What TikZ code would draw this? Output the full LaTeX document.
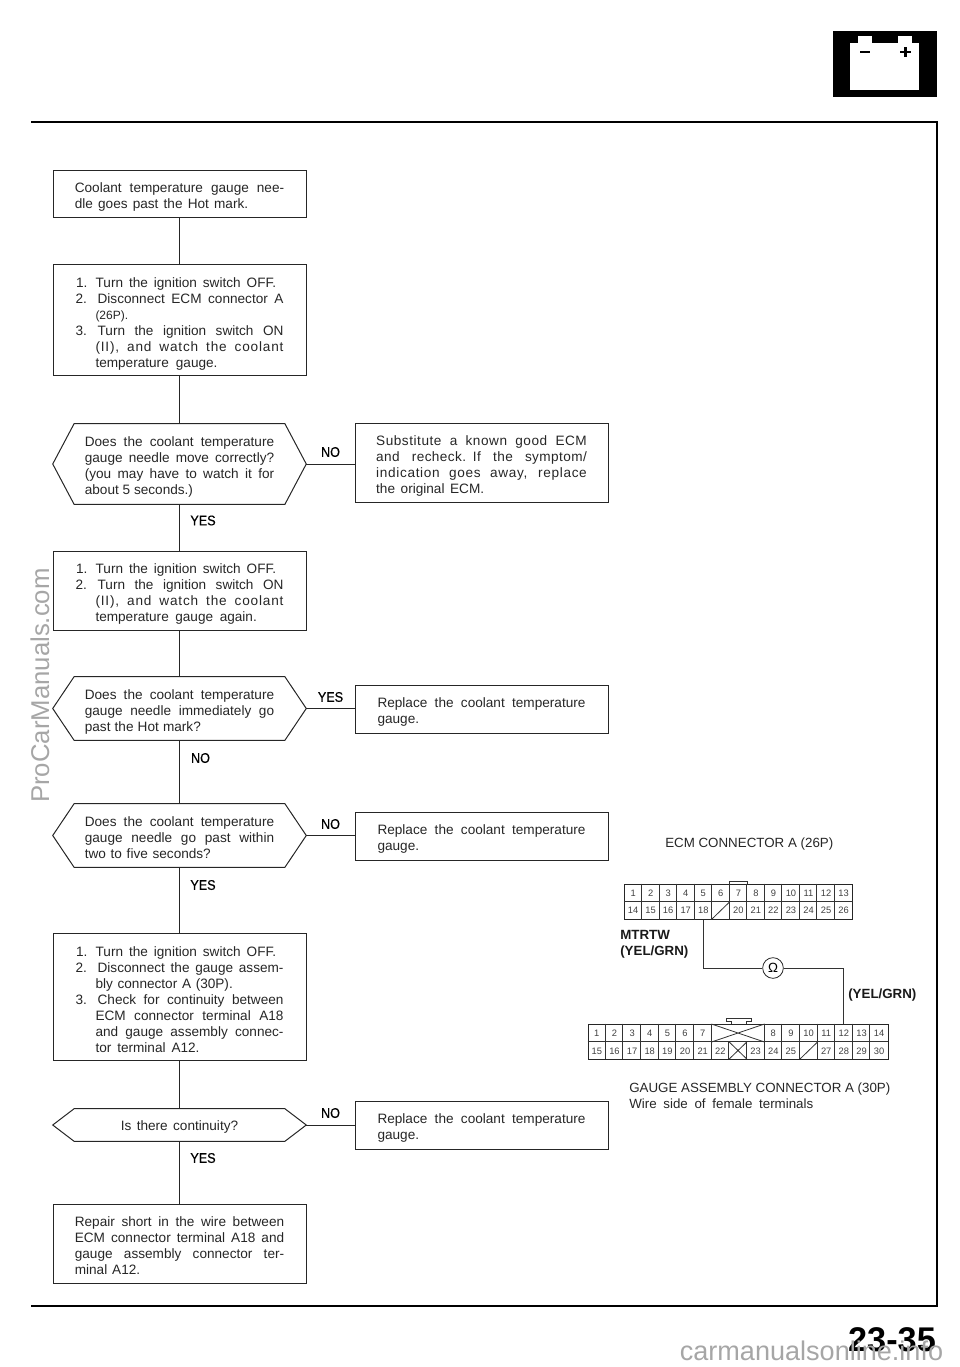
\documentclass[tikz,border=0pt]{standalone}
\usepackage{fontspec}
\setmainfont{Liberation Sans}
\newfontfamily\labf[FakeStretch=0.9,FakeBold=0.6]{Liberation Sans}
\usetikzlibrary{calc}
\newcommand\jl[2]{\makebox[#1pt][s]{\spaceskip=.28em plus 1fil\relax #2}}
\newcommand\ls[3]{\makebox[#2pt][s]{\addfontfeature{LetterSpace=#1}\spaceskip=.28em plus 1fil\relax #3}}
\newcommand\dn[1]{\rule{0pt}{\dimexpr 7.5pt+#1pt*3/2\relax}}
\newcommand\hexnode[4]{%
  \node[hexbox={#3}] (#1) at (179.5,#2) {#4};
  \draw[flowline] (#1.west) -- ([xshift=16pt]#1.north west) -- ([xshift=-16pt]#1.north east) -- (#1.east) -- ([xshift=-16pt]#1.south east) -- ([xshift=16pt]#1.south west) -- cycle;}
\tikzset{
  flowline/.style={line width=0.75pt,black!85},
  thinwire/.style={line width=0.6pt,black!80},
  box/.style 2 args={draw=black!85,line width=0.75pt,minimum width=#1*0.75pt,minimum height=#2*0.75pt,inner sep=0pt,font=\fontsize{10.2}{12}\selectfont,text=black!85},
  hexbox/.style={minimum width=189.75pt,minimum height=#1*0.75pt,inner sep=0pt,font=\fontsize{10.2}{12}\selectfont,text=black!85,text width=142pt,align=left},
  lab/.style={font=\fontsize{10.5}{12}\selectfont\labf,inner sep=0pt,text=black},
  boldlab/.style={font=\fontsize{10}{12}\selectfont\bfseries,inner sep=0pt,text=black!90,anchor=west,align=left},
  captxt/.style={font=\fontsize{10}{12}\selectfont,inner sep=0pt,text=black!85,anchor=west,align=left},
  pinnum/.style={font=\fontsize{7}{8}\selectfont,inner sep=0pt,text=black!75},
  wmark/.style={gray!70,inner sep=0pt},
}
\begin{document}
\begin{tikzpicture}[x=0.75pt,y=-0.75pt]
\useasboundingbox (0,0) rectangle (960,1367);
% battery
\fill[black] (833,31) rectangle (937,97);
\fill[white] (850,43) rectangle (919,90);
\fill[white] (858,36) rectangle (872,44);
\fill[white] (898,36) rectangle (912,44);
\draw[line width=1.6pt] (860,52) -- (870,52);
\draw[line width=1.6pt] (900,52) -- (911,52) (905.5,47) -- (905.5,57);
% frame
\coordinate (fa) at (31,122);
\coordinate (fb) at (937,122);
\coordinate (fc) at (937,1306);
\coordinate (fd) at (31,1306);
\draw[line width=1.5pt,black] (fa) -- (fb) -- (fc) -- (fd);
% left column
\node[box={253}{47},text width=157pt,align=left] (b1) at (179.5,193.5) {\dn{3}\jl{157}{Coolant temperature gauge nee-}\\\jl{130}{dle goes past the Hot mark.}};
\node[box={253}{111},text width=156pt,align=left] (b2) at (179.5,319.5) {\dn{4}\hspace*{0.5pt}\jl{150}{1.\hspace{1pt} Turn the ignition switch OFF.}\\\jl{156}{2.\hspace{3pt} Disconnect ECM connector A}\\\hspace*{15pt}{\fontsize{9}{12}\selectfont (26P).}\\\jl{156}{3.\hspace{3pt} Turn the ignition switch ON}\\\hspace*{15pt}\ls{6}{141}{(II), and watch the coolant}\\\hspace*{15pt}\jl{91.5}{temperature gauge.}};
\hexnode{d1}{464}{80}{\dn{3}\jl{142}{Does the coolant temperature}\\\jl{142}{gauge needle move correctly?}\\\jl{142}{(you may have to watch it for}\\\jl{81}{about 5 seconds.)}}
\node[box={253}{79},text width=156pt,align=left] (b4) at (179.5,590.5) {\dn{3}\hspace*{0.5pt}\jl{150}{1.\hspace{1pt} Turn the ignition switch OFF.}\\\jl{156}{2.\hspace{3pt} Turn the ignition switch ON}\\\hspace*{15pt}\ls{6}{141}{(II), and watch the coolant}\\\hspace*{15pt}\jl{121}{temperature gauge again.}};
\hexnode{d2}{708.5}{63}{\dn{3}\jl{142}{Does the coolant temperature}\\\jl{142}{gauge needle immediately go}\\\jl{87}{past the Hot mark?}}
\hexnode{d3}{835.5}{63}{\dn{2}\jl{142}{Does the coolant temperature}\\\jl{142}{gauge needle go past within}\\\jl{94.5}{two to five seconds?}}
\node[box={253}{127},text width=156pt,align=left] (b7) at (179.5,996.5) {\dn{3}\hspace*{0.5pt}\jl{150}{1.\hspace{1pt} Turn the ignition switch OFF.}\\\jl{156}{2.\hspace{3pt} Disconnect the gauge assem-}\\\hspace*{15pt}\jl{103}{bly connector A (30P).}\\\jl{156}{3.\hspace{3pt} Check for continuity between}\\\hspace*{15pt}\jl{141}{ECM connector terminal A18}\\\hspace*{15pt}\jl{141}{and gauge assembly connec-}\\\hspace*{15pt}\jl{78}{tor terminal A12.}};
\hexnode{d4}{1125}{32}{\dn{2}\hspace*{27pt}\jl{88}{Is there continuity?}}
\node[box={253}{79},text width=157pt,align=left] (b9) at (179.5,1243.5) {\dn{2}\jl{157}{Repair short in the wire between}\\\jl{157}{ECM connector terminal A18 and}\\\jl{157}{gauge assembly connector ter-}\\\jl{49}{minal A12.}};
% right column
\node[box={253}{79},text width=158pt,align=left] (b3) at (481.5,462.5) {\dn{3}\ls{4}{158}{Substitute a known good ECM}\\\ls{3}{158}{and recheck. If the symptom/}\\\ls{5}{158}{indication goes away, replace}\\\jl{81}{the original ECM.}};
\node[box={253}{48},text width=156pt,align=left] (b5) at (481.5,709) {\dn{3}\jl{156}{Replace the coolant temperature}\\gauge.};
\node[box={253}{48},text width=156pt,align=left] (b6) at (481.5,836) {\dn{3}\jl{156}{Replace the coolant temperature}\\gauge.};
\node[box={253}{48},text width=156pt,align=left] (b8) at (481.5,1125) {\dn{3}\jl{156}{Replace the coolant temperature}\\gauge.};
% connectors
\draw[flowline] (b1) -- (b2);
\draw[flowline] (b2) -- (d1);
\draw[flowline] (d1) -- (b4);
\draw[flowline] (b4) -- (d2);
\draw[flowline] (d2) -- (d3);
\draw[flowline] (d3) -- (b7);
\draw[flowline] (b7) -- (d4);
\draw[flowline] (d4) -- (b9);
\draw[flowline] (d1.east) -- (d1.east -| b3.west);
\draw[flowline] (d2.east) -- (d2.east -| b5.west);
\draw[flowline] (d3.east) -- (d3.east -| b6.west);
\draw[flowline] (d4.east) -- (d4.east -| b8.west);
% labels
\node[lab] (l1) at (330.5,452) {NO};
\node[lab] (l2) at (203,520.5) {YES};
\node[lab] (l3) at (330.5,697) {YES};
\node[lab] (l4) at (200.5,758) {NO};
\node[lab] (l5) at (330.5,824) {NO};
\node[lab] (l6) at (203,885) {YES};
\node[lab] (l7) at (330.5,1113) {NO};
\node[lab] (l8) at (203,1158) {YES};
% ECM connector
\node[captxt] (ecmt) at (665,844) {\jl{123}{ECM CONNECTOR A (26P)}};
\node[draw=black!85,line width=0.7pt,minimum width=171pt,minimum height=26.25pt,inner sep=0pt] (ecm) at (738.3,901.7) {};
\draw[thinwire] (729,884) -- (729,881) -- (747,881) -- (747,884);
\draw[thinwire] (ecm.west) -- (ecm.east);
\foreach \c in {1,...,12} \draw[thinwire] ($(ecm.north west)+(\c*17.54,0)$) -- ($(ecm.south west)+(\c*17.54,0)$);
\foreach \n [count=\i from 0] in {1,...,13} \node[pinnum] (e\n) at (633.1+\i*17.54,893) {\n};
\foreach \n/\i in {14/0,15/1,16/2,17/3,18/4,20/6,21/7,22/8,23/9,24/10,25/11,26/12} \node[pinnum] (e\n) at (633.1+\i*17.54,910.5) {\n};
\draw[thinwire] (712,919) -- (729.5,902);
\node[boldlab] (mt) at (620,944) {MTRTW\\(YEL/GRN)};
% gauge connector
\node[draw=black!85,line width=0.7pt,minimum width=225pt,minimum height=26.25pt,inner sep=0pt] (ga) at (738,1041.5) {};
\draw[thinwire] (ga.west) -- (ga.east);
\foreach \c in {1,...,7,10,11,...,16} \draw[thinwire] ($(ga.north west)+(\c*17.647,0)$) -- ($(ga.south west)+(\c*17.647,0)$);
\foreach \c in {8,9} \draw[thinwire] ($(ga.west)+(\c*17.647,0)$) -- ($(ga.south west)+(\c*17.647,0)$);
\foreach \n [count=\i from 0] in {1,...,7} \node[pinnum] (g\n) at (596.8+\i*17.647,1033) {\n};
\foreach \n [count=\i from 10] in {8,...,14} \node[pinnum] (g\n) at (596.8+\i*17.647,1033) {\n};
\foreach \n/\i in {15/0,16/1,17/2,18/3,19/4,20/5,21/6,22/7,23/9,24/10,25/11,27/13,28/14,29/15,30/16} \node[pinnum] (g\n) at (596.8+\i*17.647,1051) {\n};
\draw[thinwire] (711.5,1024) -- (764.5,1042) (711.5,1042) -- (764.5,1024);
\draw[thinwire] (729.2,1042) -- (746.8,1059) (729.2,1059) -- (746.8,1042);
\draw[thinwire] (800,1059) -- (817.5,1042);
\draw[thinwire] (731,1024) -- (731,1021) -- (726,1021) -- (726,1018) -- (751,1018) -- (751,1021) -- (746,1021) -- (746,1024);
% wire
\node[circle,draw=black!85,line width=0.6pt,minimum size=15.5pt,inner sep=0pt,font=\fontsize{10}{10}\selectfont] (ohm) at (773,968) {Ω};
\draw[thinwire] (ecm.south -| e18) |- (ohm.west);
\draw[thinwire] (ohm.east) -| (ga.north -| g12);
\node[boldlab] (yg) at (848,995) {(YEL/GRN)};
\node[captxt] (gat) at (629,1096) {GAUGE ASSEMBLY CONNECTOR A (30P)\\\jl{138}{Wire side of female terminals}};
% page number and marks
\node[inner sep=0pt,font=\fontsize{25.7}{26}\selectfont\bfseries] (pg) at (892,1340) {23-35};
\node[wmark,font=\fontsize{20.3}{24}\selectfont] (wm1) at (811.5,1351) {carmanualsonline.info};
\node[wmark,rotate=90,font=\fontsize{19.3}{24}\selectfont] (wm2) at (40,685.5) {ProCarManuals.com};
\end{tikzpicture}
\end{document}
